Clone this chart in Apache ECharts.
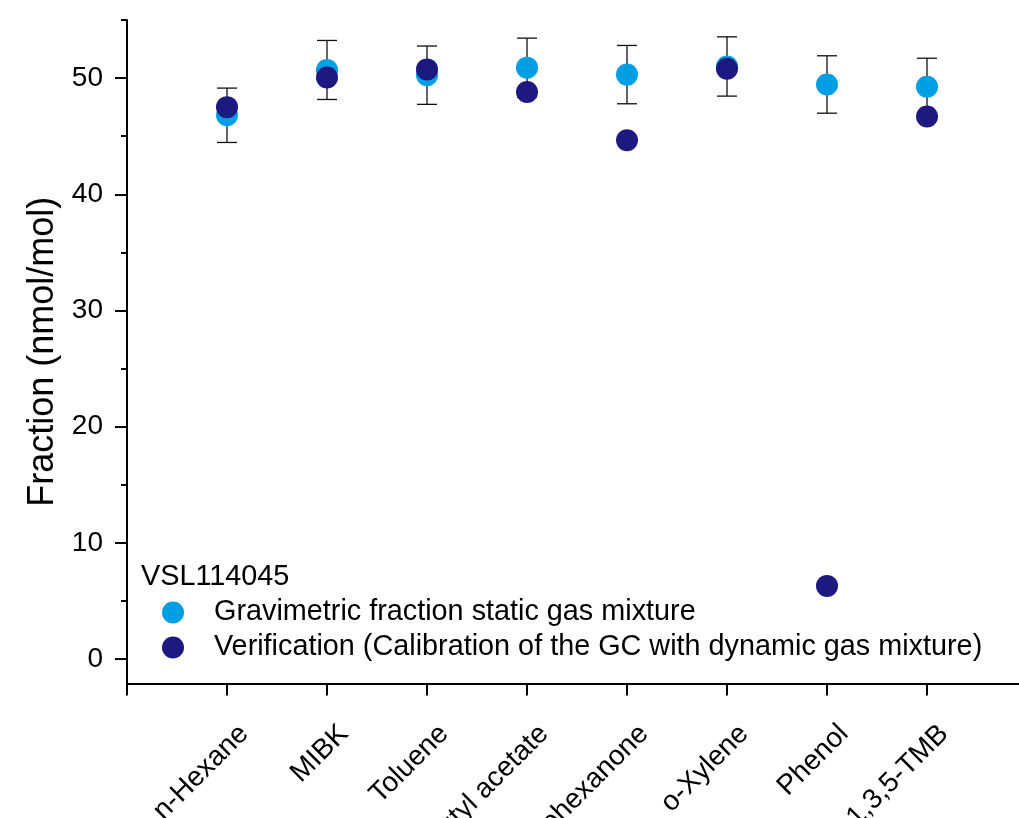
<!DOCTYPE html>
<html>
<head>
<meta charset="utf-8">
<script src="https://cdn.jsdelivr.net/npm/echarts@6/dist/echarts.min.js"></script>
<style>
html, body { margin: 0; padding: 0; background: #fff; }
#chart { width: 1019px; height: 818px; }
</style>
</head>
<body>
<div id="chart"></div>
<script>
const categories = ['n-Hexane', 'MIBK', 'Toluene', 'Butyl acetate', 'Cyclohexanone', 'o-Xylene', 'Phenol', '1,3,5-TMB'];
const gravimetric = [46.8, 50.7, 50.25, 50.9, 50.3, 51.0, 49.45, 49.25];
const gravimetricErr = [2.34, 2.54, 2.51, 2.54, 2.51, 2.55, 2.47, 2.46];
const verification = [47.5, 50.05, 50.75, 48.8, 44.65, 50.8, 6.3, 46.7];
const yTicks = [0, 10, 20, 30, 40, 50];
const yMinorTicks = [5, 15, 25, 35, 45, 55];
const xTicks = [0, 1, 2, 3, 4, 5, 6, 7, 8, 9];
const legendTitle = 'VSL114045';
const seriesNames = ['Gravimetric fraction static gas mixture', 'Verification (Calibration of the GC with dynamic gas mixture)'];
const yName = 'Fraction (nmol/mol)';

const FONT = "'Liberation Sans', Arial, sans-serif";
const chart = echarts.init(document.getElementById('chart'), null, { renderer: 'canvas' });

const positions = categories.map((c, i) => i + 1);

const option = {
  animation: false,
  backgroundColor: '#ffffff',
  textStyle: { fontFamily: FONT },
  title: {
    text: legendTitle,
    left: 141,
    top: 563,
    padding: 0,
    textStyle: { fontFamily: FONT, fontSize: 28.8, fontWeight: 'normal', color: '#000' }
  },
  legend: {
    orient: 'vertical',
    left: 162,
    top: 598,
    itemGap: 6,
    itemWidth: 22,
    itemHeight: 22,
    icon: 'circle',
    padding: 0,
    data: seriesNames,
    textStyle: { fontFamily: FONT, fontSize: 28.8, color: '#000', padding: [0, 0, 0, 25] }
  },
  grid: { left: 127, right: -8, top: 20, bottom: 134.5, containLabel: false, outerBoundsMode: 'none' },
  xAxis: [
    {
      type: 'value', min: 0, max: 9, position: 'bottom',
      axisLine: { show: true, onZero: false, lineStyle: { color: '#000', width: 2 } },
      axisTick: { show: true, inside: false, length: 12, lineStyle: { color: '#000', width: 2 }, customValues: xTicks },
      axisLabel: { show: false, customValues: xTicks },
      splitLine: { show: false }
    },
    {
      type: 'value', min: -0.17, max: 8.83, position: 'bottom',
      axisLine: { show: false },
      axisTick: { show: false },
      axisLabel: {
        show: true, rotate: 45, margin: 46,
        fontFamily: FONT, fontSize: 28, color: '#000',
        customValues: positions,
        formatter: function (v) { const i = Math.round(v) - 1; return categories[i] || ''; }
      },
      splitLine: { show: false }
    }
  ],
  yAxis: [
    {
      type: 'value', min: -2.1, max: 55, position: 'left',
      name: yName, nameLocation: 'middle', nameGap: 60, nameRotate: 90,
      nameTextStyle: { fontFamily: FONT, fontSize: 36, color: '#000' },
      axisLine: { show: true, onZero: false, lineStyle: { color: '#000', width: 2 } },
      axisTick: { show: true, inside: false, length: 12, lineStyle: { color: '#000', width: 2 }, customValues: yTicks },
      axisLabel: { show: true, margin: 24, fontFamily: FONT, fontSize: 28, color: '#000', customValues: yTicks },
      splitLine: { show: false }
    },
    {
      type: 'value', min: -2.1, max: 55, position: 'left',
      axisLine: { show: false },
      axisTick: { show: true, inside: false, length: 6, lineStyle: { color: '#000', width: 2 }, customValues: yMinorTicks },
      axisLabel: { show: false, customValues: yMinorTicks },
      splitLine: { show: false }
    }
  ],
  series: [
    {
      type: 'custom',
      name: 'errors',
      xAxisIndex: 0, yAxisIndex: 0,
      z: 1,
      silent: true,
      encode: { x: 0, y: 1 },
      data: gravimetric.map((v, i) => [positions[i], v, gravimetricErr[i]]),
      renderItem: function (params, api) {
        const x = api.value(0), y = api.value(1), e = api.value(2);
        const top = api.coord([x, y + e]);
        const bot = api.coord([x, y - e]);
        const cap = 10;
        const style = { stroke: '#111', lineWidth: 1.3 };
        return {
          type: 'group',
          children: [
            { type: 'line', shape: { x1: top[0], y1: top[1], x2: bot[0], y2: bot[1] }, style: style },
            { type: 'line', shape: { x1: top[0] - cap, y1: top[1], x2: top[0] + cap, y2: top[1] }, style: style },
            { type: 'line', shape: { x1: bot[0] - cap, y1: bot[1], x2: bot[0] + cap, y2: bot[1] }, style: style }
          ]
        };
      }
    },
    {
      type: 'scatter',
      name: seriesNames[0],
      xAxisIndex: 0, yAxisIndex: 0,
      z: 2,
      symbol: 'circle',
      symbolSize: 22,
      itemStyle: { color: '#009fe3', opacity: 1 },
      data: gravimetric.map((v, i) => [positions[i], v])
    },
    {
      type: 'scatter',
      name: seriesNames[1],
      xAxisIndex: 0, yAxisIndex: 0,
      z: 3,
      symbol: 'circle',
      symbolSize: 22,
      itemStyle: { color: '#1c1a80', opacity: 1 },
      data: verification.map((v, i) => [positions[i], v])
    }
  ]
};
chart.setOption(option);
</script>
</body>
</html>
